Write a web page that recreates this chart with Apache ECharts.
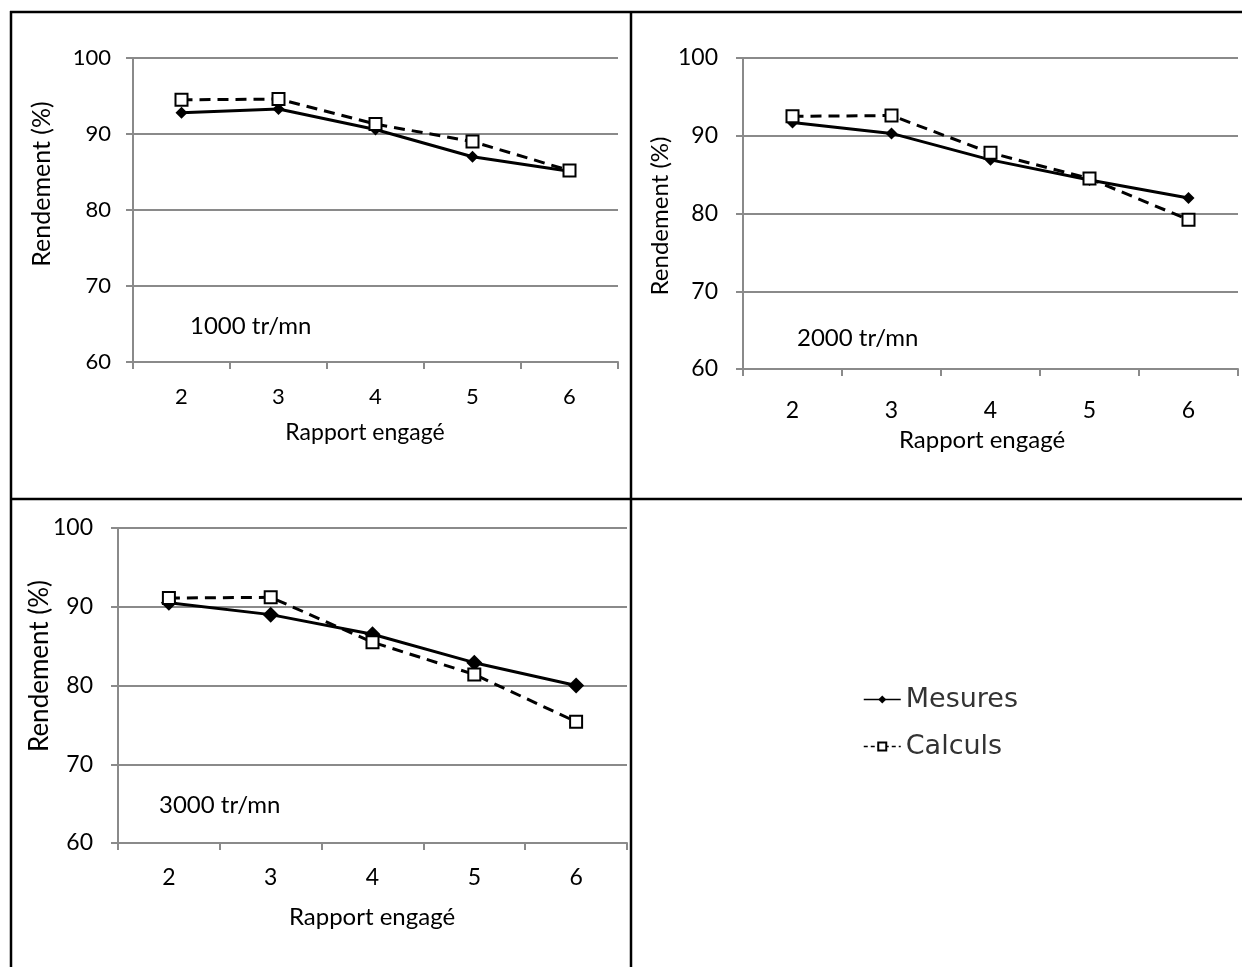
<!DOCTYPE html>
<html>
<head>
<meta charset="utf-8">
<script src="https://cdn.jsdelivr.net/npm/echarts@6/dist/echarts.min.js"></script>
<style>
  html, body { margin: 0; padding: 0; background: #fff; }
  #chart { width: 1242px; height: 967px; }
</style>
</head>
<body>
<div id="chart"></div>
<script>
// Gear ratios engaged
const categories = ['2', '3', '4', '5', '6'];

// Efficiency (%) — measured vs computed, per engine speed
const mesures1000 = [92.8, 93.3, 90.6, 87.0, 85.1];
const calculs1000 = [94.5, 94.6, 91.3, 89.0, 85.2];
const mesures2000 = [91.7, 90.3, 86.9, 84.3, 82.0];
const calculs2000 = [92.5, 92.6, 87.8, 84.5, 79.2];
const mesures3000 = [90.5, 89.0, 86.5, 82.9, 80.0];
const calculs3000 = [91.1, 91.2, 85.5, 81.4, 75.4];

const speedLabels = ['1000 tr/mn', '2000 tr/mn', '3000 tr/mn'];
const yMin = 60, yMax = 100, yStep = 10;

const FONT = 'Lato';
const GRID_GRAY = '#8a8a8a';

// Panel layout (plot areas, label spacing, marker sizes)
const layout = [
  { grid: { left: 133, top: 58, width: 485, height: 304 }, fs: 22, xMargin: 24, yMargin: 22, diamond: 12 },
  { grid: { left: 743, top: 58, width: 495, height: 311 }, fs: 23, xMargin: 30, yMargin: 25, diamond: 12 },
  { grid: { left: 118, top: 528, width: 509, height: 315 }, fs: 23, xMargin: 23, yMargin: 25, diamond: 16 }
];
const mesures = [mesures1000, mesures2000, mesures3000];
const calculs = [calculs1000, calculs2000, calculs3000];

const grids = [], xAxes = [], yAxes = [], series = [];
layout.forEach((p, i) => {
  grids.push(Object.assign({ containLabel: false }, p.grid));
  xAxes.push({
    type: 'category', gridIndex: i, data: categories, boundaryGap: true,
    axisLine: { lineStyle: { color: GRID_GRAY, width: 2 } },
    axisTick: { show: true, alignWithLabel: false, length: 7, lineStyle: { color: GRID_GRAY, width: 2 } },
    axisLabel: { fontFamily: FONT, fontSize: p.fs, color: '#000', margin: p.xMargin }
  });
  yAxes.push({
    type: 'value', gridIndex: i, min: yMin, max: yMax, interval: yStep,
    axisLine: { show: true, lineStyle: { color: GRID_GRAY, width: 2 } },
    axisTick: { show: true, length: 7, lineStyle: { color: GRID_GRAY, width: 2 } },
    splitLine: { show: true, lineStyle: { color: GRID_GRAY, width: 2 } },
    axisLabel: { fontFamily: FONT, fontSize: p.fs, color: '#000', margin: p.yMargin }
  });
  series.push({
    name: 'Mesures', type: 'line', xAxisIndex: i, yAxisIndex: i,
    data: mesures[i], symbol: 'diamond', symbolSize: p.diamond,
    lineStyle: { color: '#000', width: 3 },
    itemStyle: { color: '#000' },
    z: 2
  });
  series.push({
    name: 'Calculs', type: 'line', xAxisIndex: i, yAxisIndex: i,
    data: calculs[i], symbol: 'rect', symbolSize: 12,
    lineStyle: { color: '#000', width: 3, type: [11, 7] },
    itemStyle: { color: '#fff', borderColor: '#000', borderWidth: 2 },
    z: 3
  });
});

// Table frame around the panels
const frame = [
  [11, 11, 11, 967],
  [10, 12, 1242, 12],
  [631, 11, 631, 967],
  [10, 499, 1242, 499]
].map(([x1, y1, x2, y2]) => ({
  type: 'line', shape: { x1, y1, x2, y2 },
  style: { stroke: '#000', lineWidth: 2.5 }, silent: true, z: 10
}));

function text(str, x, y, size, opts) {
  return Object.assign({
    type: 'text', x, y,
    style: { text: str, fontFamily: FONT, fontSize: size, fill: '#000',
             textAlign: 'center', textVerticalAlign: 'middle' },
    silent: true
  }, opts || {});
}

const yTitlePos = [[42, 184, 25], [660, 216, 24], [40, 666, 26]];
const xTitlePos = [[365, 433, 23], [982, 440, 24], [372, 917, 24]];
const speedPos = [[190, 326], [797, 338], [159, 805]];

const texts = [];
yTitlePos.forEach(([x, y, s]) => texts.push(text('Rendement (%)', x, y, s, { rotation: Math.PI / 2 })));
xTitlePos.forEach(([x, y, s]) => texts.push(text('Rapport engagé', x, y, s)));
speedPos.forEach(([x, y], i) => {
  const t = text(speedLabels[i], x, y, 24);
  t.style.textAlign = 'left';
  texts.push(t);
});

const chart = echarts.init(document.getElementById('chart'), null, { renderer: 'canvas' });
chart.setOption({
  animation: false,
  backgroundColor: '#fff',
  grid: grids,
  xAxis: xAxes,
  yAxis: yAxes,
  series: series,
  legend: {
    data: [
      { name: 'Mesures', lineStyle: { width: 1.5, type: 'solid' } },
      { name: 'Calculs', lineStyle: { width: 1.5, type: [4, 3] } }
    ],
    orient: 'vertical',
    left: 858, top: 681,
    itemWidth: 37, itemHeight: 10, itemGap: 20,
    textStyle: { fontFamily: 'DejaVu Sans', fontSize: 27, color: '#333' },
    selectedMode: false
  },
  graphic: frame.concat(texts)
});
</script>
</body>
</html>
